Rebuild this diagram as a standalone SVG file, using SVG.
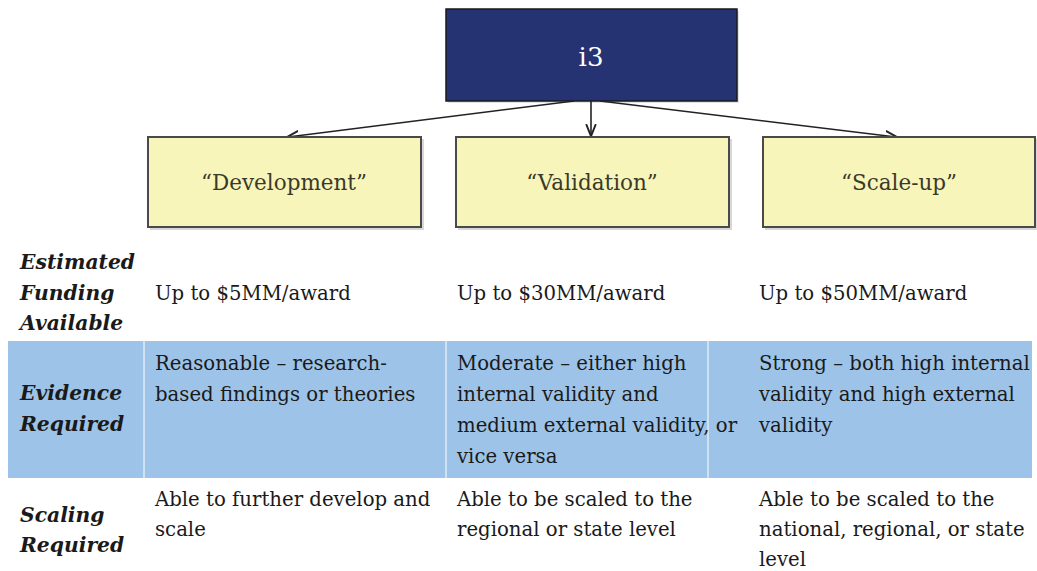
<svg xmlns="http://www.w3.org/2000/svg" width="1037" height="571" viewBox="0 0 1037 571">
<style>
.t{font-family:"DejaVu Serif",serif;font-size:19.7px;fill:#1a1a1a}
.lab{font-family:"DejaVu Serif",serif;font-size:20.3px;font-weight:bold;font-style:italic;fill:#1a1a1a}
.box{fill:#F8F5BB;stroke:#4a4a4a;stroke-width:2}
.sh{fill:#bdbdbd;opacity:0.6}
.bt{font-family:"DejaVu Serif",serif;font-size:21.5px;fill:#3a3a2a;text-anchor:middle}
.conn line{stroke:#222;stroke-width:1.6}
</style>
<defs>
<marker id="ah" viewBox="0 0 10 10" refX="9" refY="5" markerWidth="12" markerHeight="12" orient="auto-start-reverse" markerUnits="userSpaceOnUse">
<path d="M0,1 L10,5 L0,9" fill="none" stroke="#222" stroke-width="1.6"/>
</marker>
</defs>
<rect width="1037" height="571" fill="#fff"/>
<g id="band">
<rect x="8" y="341" width="1024" height="137" fill="#9DC4E8"/>
<line x1="144" y1="341" x2="144" y2="478" stroke="#fff" stroke-width="1"/>
<line x1="446" y1="341" x2="446" y2="478" stroke="#fff" stroke-width="1"/>
<line x1="708" y1="341" x2="708" y2="478" stroke="#fff" stroke-width="1"/>
</g>
<g id="i3">
<rect x="448" y="11" width="291" height="92" fill="#c8c8c8" opacity="0.5"/>
<rect x="446" y="9" width="291" height="92" fill="#263373" stroke="#1a1a1a" stroke-width="1.5"/>
<text x="591" y="66" font-family="DejaVu Serif, serif" font-size="26" fill="#fff" text-anchor="middle">i3</text>
</g>
<g class="conn" id="connectors">
<line x1="574" y1="101" x2="288" y2="137" marker-end="url(#ah)"/>
<line x1="591" y1="101" x2="591" y2="135" marker-end="url(#ah)"/>
<line x1="600" y1="101" x2="896" y2="137" marker-end="url(#ah)"/>
</g>
<g id="development">
<rect class="sh" x="150" y="139" width="274" height="91"/>
<rect class="box" x="148" y="137" width="273" height="90"/>
<text class="bt" x="284" y="190">“Development”</text>
</g>
<g id="validation">
<rect class="sh" x="458" y="139" width="274" height="91"/>
<rect class="box" x="456" y="137" width="273" height="90"/>
<text class="bt" x="592" y="190">“Validation”</text>
</g>
<g id="scaleup">
<rect class="sh" x="765" y="139" width="274" height="91"/>
<rect class="box" x="763" y="137" width="272" height="90"/>
<text class="bt" x="899" y="190">“Scale-up”</text>
</g>
<g id="row-funding">
<text class="lab" x="20" y="269">Estimated</text>
<text class="lab" x="20" y="300">Funding</text>
<text class="lab" x="20" y="330">Available</text>
<text class="t" x="155" y="300">Up to $5MM/award</text>
<text class="t" x="457" y="300">Up to $30MM/award</text>
<text class="t" x="759" y="300">Up to $50MM/award</text>
</g>
<g id="row-evidence">
<text class="lab" x="20" y="400">Evidence</text>
<text class="lab" x="20" y="431">Required</text>
<text class="t" x="155" y="370">Reasonable – research-</text>
<text class="t" x="155" y="401">based findings or theories</text>
<text class="t" x="457" y="370">Moderate – either high</text>
<text class="t" x="457" y="401">internal validity and</text>
<text class="t" x="457" y="432">medium external validity, or</text>
<text class="t" x="457" y="463">vice versa</text>
<text class="t" x="759" y="370">Strong – both high internal</text>
<text class="t" x="759" y="401">validity and high external</text>
<text class="t" x="759" y="432">validity</text>
</g>
<g id="row-scaling">
<text class="lab" x="20" y="522">Scaling</text>
<text class="lab" x="20" y="552">Required</text>
<text class="t" x="155" y="506">Able to further develop and</text>
<text class="t" x="155" y="536">scale</text>
<text class="t" x="457" y="506">Able to be scaled to the</text>
<text class="t" x="457" y="536">regional or state level</text>
<text class="t" x="759" y="506">Able to be scaled to the</text>
<text class="t" x="759" y="536">national, regional, or state</text>
<text class="t" x="759" y="566">level</text>
</g>
</svg>
